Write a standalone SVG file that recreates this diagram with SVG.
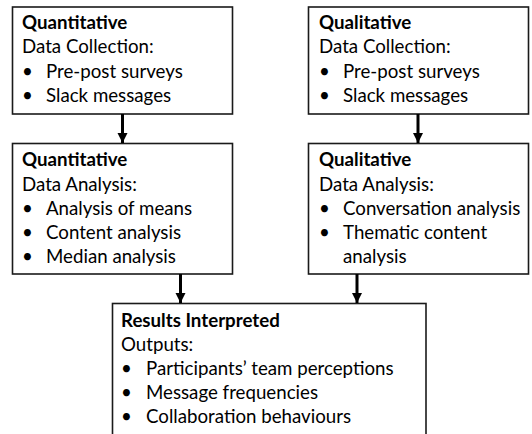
<svg xmlns="http://www.w3.org/2000/svg" width="532" height="434" viewBox="0 0 532 434">
<style>
.box{fill:#fff;stroke:#1a1a1a;stroke-width:1.6}
text{font-family:Lato,"Liberation Sans",sans-serif;font-size:18.7px;fill:#000}
.b{font-weight:bold}
.conn line{stroke:#000;stroke-width:3}
</style>
<defs>
<marker id="ah" viewBox="0 0 10 10" refX="10" refY="5" markerWidth="3.4" markerHeight="3.4" orient="auto" markerUnits="strokeWidth">
<path d="M0,0 L10,5 L0,10 z" fill="#000"/>
</marker>
</defs>
<rect width="532" height="434" fill="#fff"/>
<g id="quant-collect">
<rect class="box" x="12.5" y="7" width="220" height="107"/>
<text class="b" x="22" y="29">Quantitative</text>
<text x="22" y="53">Data Collection:</text>
<text x="22" y="78">•</text><text x="46" y="78">Pre-post surveys</text>
<text x="22" y="102">•</text><text x="46" y="102">Slack messages</text>
</g>
<g id="qual-collect">
<rect class="box" x="308.5" y="7" width="220" height="107"/>
<text class="b" x="319" y="29">Qualitative</text>
<text x="319" y="53">Data Collection:</text>
<text x="319" y="78">•</text><text x="343" y="78">Pre-post surveys</text>
<text x="319" y="102">•</text><text x="343" y="102">Slack messages</text>
</g>
<g id="quant-analysis">
<rect class="box" x="12.5" y="143.5" width="220" height="130.5"/>
<text class="b" x="22" y="166">Quantitative</text>
<text x="22" y="191">Data Analysis:</text>
<text x="22" y="215">•</text><text x="46" y="215">Analysis of means</text>
<text x="22" y="239">•</text><text x="46" y="239">Content analysis</text>
<text x="22" y="263">•</text><text x="46" y="263">Median analysis</text>
</g>
<g id="qual-analysis">
<rect class="box" x="308.5" y="143.5" width="220" height="130.5"/>
<text class="b" x="319" y="166">Qualitative</text>
<text x="319" y="191">Data Analysis:</text>
<text x="319" y="215">•</text><text x="343" y="215">Conversation analysis</text>
<text x="319" y="239">•</text><text x="343" y="239">Thematic content</text>
<text x="343" y="263">analysis</text>
</g>
<g id="results">
<rect class="box" x="112.5" y="303.5" width="313.5" height="140"/>
<text class="b" x="121" y="327">Results Interpreted</text>
<text x="121" y="351">Outputs:</text>
<text x="121" y="375">•</text><text x="146" y="375">Participants’ team perceptions</text>
<text x="121" y="399">•</text><text x="146" y="399">Message frequencies</text>
<text x="121" y="423">•</text><text x="146" y="423">Collaboration behaviours</text>
</g>
<g id="connectors" class="conn">
<line x1="122.5" y1="114" x2="122.5" y2="143" marker-end="url(#ah)"/>
<line x1="418" y1="114" x2="418" y2="143" marker-end="url(#ah)"/>
<line x1="180.5" y1="274" x2="180.5" y2="303" marker-end="url(#ah)"/>
<line x1="357" y1="274" x2="357" y2="303" marker-end="url(#ah)"/>
</g>
</svg>
